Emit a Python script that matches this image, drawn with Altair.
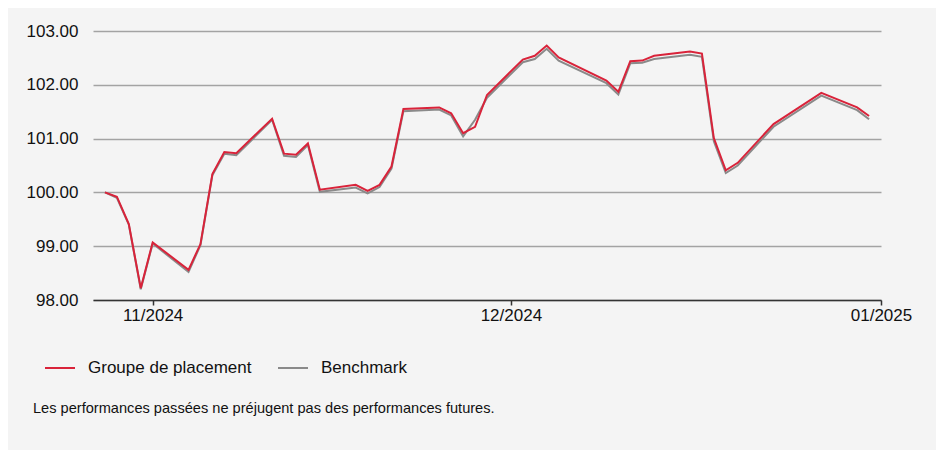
import altair as alt
import pandas as pd

dates = ["2024-10-28", "2024-10-29", "2024-10-30", "2024-10-31", "2024-11-01",
         "2024-11-04", "2024-11-05", "2024-11-06", "2024-11-07", "2024-11-08",
         "2024-11-11", "2024-11-12", "2024-11-13", "2024-11-14", "2024-11-15",
         "2024-11-18", "2024-11-19", "2024-11-20", "2024-11-21", "2024-11-22",
         "2024-11-25", "2024-11-26", "2024-11-27", "2024-11-28", "2024-11-29",
         "2024-12-02", "2024-12-03", "2024-12-04", "2024-12-05",
         "2024-12-09", "2024-12-10", "2024-12-11", "2024-12-12", "2024-12-13",
         "2024-12-16", "2024-12-17", "2024-12-18", "2024-12-19", "2024-12-20",
         "2024-12-23", "2024-12-27", "2024-12-30", "2024-12-31"]

groupe = [100.00, 99.92, 99.41, 98.22, 99.07,
          98.56, 99.04, 100.34, 100.75, 100.73,
          101.37, 100.72, 100.70, 100.91, 100.05,
          100.14, 100.03, 100.14, 100.48, 101.55,
          101.58, 101.47, 101.10, 101.22, 101.81,
          102.47, 102.54, 102.73, 102.51,
          102.08, 101.87, 102.44, 102.45, 102.54,
          102.62, 102.58, 101.01, 100.41, 100.55,
          101.27, 101.85, 101.58, 101.42]

benchmark = [100.00, 99.90, 99.40, 98.20, 99.05,
             98.52, 99.02, 100.32, 100.72, 100.69,
             101.35, 100.68, 100.66, 100.88, 100.01,
             100.09, 99.98, 100.10, 100.44, 101.51,
             101.54, 101.43, 101.04, 101.35, 101.76,
             102.42, 102.48, 102.67, 102.45,
             102.03, 101.82, 102.40, 102.41, 102.48,
             102.56, 102.52, 100.95, 100.36, 100.50,
             101.22, 101.80, 101.53, 101.36]

series_names = ["Groupe de placement", "Benchmark"]
series_colors = ["#d9233a", "#8a8a8a"]
y_ticks = [98, 99, 100, 101, 102, 103]
footnote = "Les performances passées ne préjugent pas des performances futures."

df = pd.concat([
    pd.DataFrame({"date": dates, "value": benchmark, "series": series_names[1], "ord": 0}),
    pd.DataFrame({"date": dates, "value": groupe, "series": series_names[0], "ord": 1}),
])

FONT = "Liberation Sans"

x_enc = alt.X(
    "date:T",
    scale=alt.Scale(type="utc", domain=[
        alt.DateTime(year=2024, month=10, date=27, utc=True),
        alt.DateTime(year=2025, month=1, date=1, utc=True)]),
    axis=alt.Axis(
        title=None, format="%m/%Y", grid=False,
        values=[alt.DateTime(year=2024, month=11, date=1, utc=True),
                alt.DateTime(year=2024, month=12, date=1, utc=True),
                alt.DateTime(year=2025, month=1, date=1, utc=True)],
        domainColor="#333333", domainWidth=1.5, tickColor="#333333", tickWidth=1.5,
        tickSize=5, labelPadding=2, labelFontSize=17, labelFont=FONT,
        labelColor="#111111", labelFlush=False, labelOverlap=False),
)
y_enc = alt.Y(
    "value:Q",
    scale=alt.Scale(domain=[98, 103], nice=False, zero=False),
    axis=alt.Axis(
        title=None, values=y_ticks, format=".2f", domain=False, ticks=False,
        gridColor="#a3a3a3", gridWidth=1.5, labelPadding=15, labelFontSize=17,
        labelFont=FONT, labelColor="#111111"),
)

lines = alt.Chart(df).mark_line(strokeWidth=2, clip=False).encode(
    x=x_enc,
    y=y_enc,
    color=alt.Color(
        "series:N",
        scale=alt.Scale(domain=series_names, range=series_colors),
        legend=alt.Legend(
            title=None, orient="none", direction="horizontal",
            legendX=-49, legendY=321, symbolType="stroke", symbolSize=900,
            symbolStrokeWidth=2, labelFontSize=17, labelFont=FONT, labelLimit=0,
            labelColor="#111111", labelOffset=12, columnPadding=22, padding=0),
    ),
    order=alt.Order("ord:Q"),
)

note = alt.Chart(pd.DataFrame({"t": [footnote]})).mark_text(
    align="left", baseline="middle", fontSize=14.6, font=FONT, color="#111111"
).encode(text="t:N", x=alt.value(-60), y=alt.value(378))

chart = alt.layer(lines, note).properties(
    width=788, height=269,
    autosize=alt.AutoSizeParams(type="none"),
    padding={"left": 85, "top": 23, "right": 55, "bottom": 150},
    background="#f4f4f4",
).configure_view(stroke=None)

chart.save("out.html", embed_options={"renderer": "svg", "actions": False})
